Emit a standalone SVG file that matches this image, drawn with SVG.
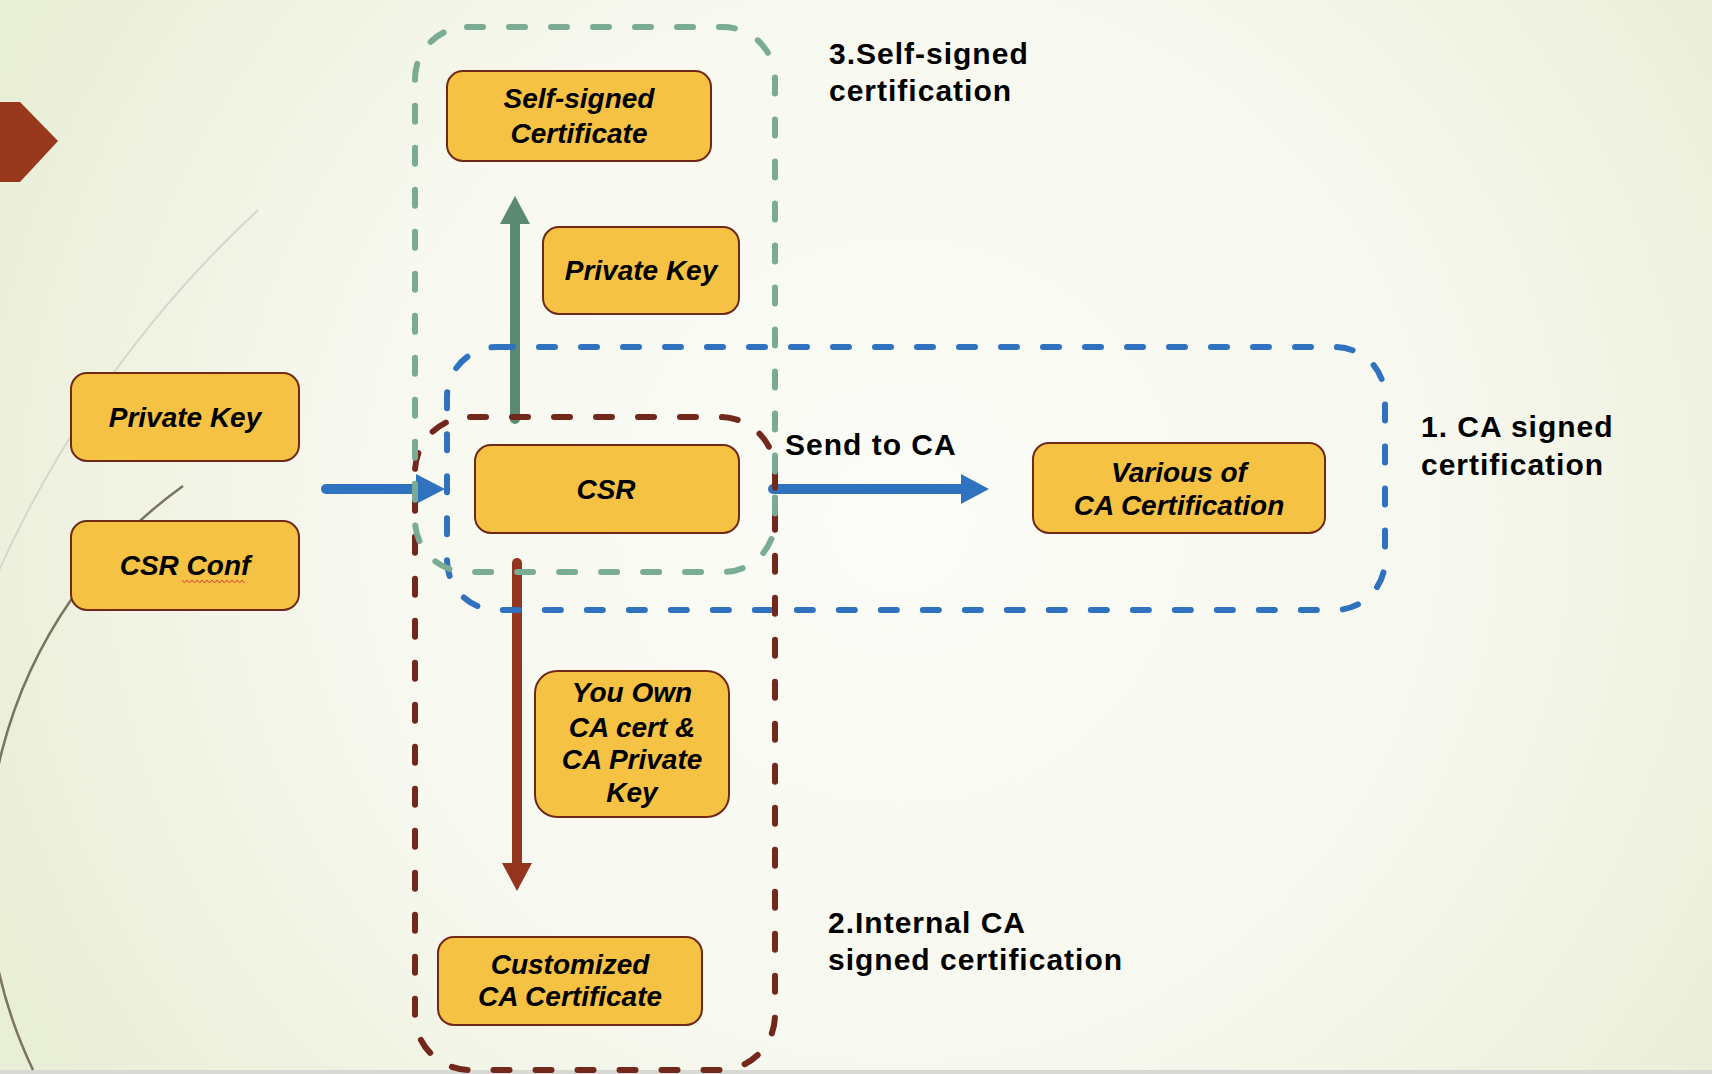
<svg xmlns="http://www.w3.org/2000/svg" width="1712" height="1074" viewBox="0 0 1712 1074">
<defs>
<radialGradient id="bg" cx="900" cy="520" r="1000" gradientUnits="userSpaceOnUse">
<stop offset="0" stop-color="#fcfcf8"/>
<stop offset="0.55" stop-color="#f7f8ef"/>
<stop offset="1" stop-color="#e9eed6"/>
</radialGradient>
<style>
.node rect{fill:#f5c244;stroke:#6e2a16;stroke-width:2}
.node text{font-family:"Liberation Sans",Arial,sans-serif;font-weight:bold;font-style:italic;font-size:28px;fill:#000;text-anchor:middle}
.label{font-family:"Liberation Sans",Arial,sans-serif;font-weight:bold;font-size:30px;fill:#000;letter-spacing:1px}
.cont{fill:none;stroke-width:6;stroke-dasharray:16 26;stroke-linecap:round}
.conn line{stroke-width:10;stroke-linecap:round}
</style>
</defs>
<rect x="0" y="0" width="1712" height="1074" fill="url(#bg)"/>
<rect x="0" y="1070" width="1712" height="4" fill="#d8d8d4"/>
<g id="decor">
<polygon points="0,102 20,102 58,141 20,182 0,182" fill="#98391e"/>
<path d="M258,210 A1121,1121 0 0 0 -22,620" fill="none" stroke="#d6d7cc" stroke-width="2"/>
<path d="M183,486 A470,470 0 0 0 33,1070" fill="none" stroke="#7a7460" stroke-width="2.5"/>
</g>
<g id="connectors" class="conn">
<line x1="326" y1="489" x2="418" y2="489" stroke="#2f72c0"/>
<polygon points="416,474 445,489 416,504" fill="#2f72c0"/>
<line x1="773" y1="489" x2="963" y2="489" stroke="#2f72c0"/>
<polygon points="961,474 989,489 961,504" fill="#2f72c0"/>
<line x1="515" y1="419" x2="515" y2="222" stroke="#5b8a73"/>
<polygon points="500,224 515,196 530,224" fill="#5b8a73"/>
<line x1="517" y1="563" x2="517" y2="865" stroke="#943520"/>
<polygon points="502,863 517,891 532,863" fill="#943520"/>
</g>
<g id="groups">
<rect id="grp-ca" class="cont" x="447" y="347" width="938" height="263" rx="50" stroke="#2f72c0"/>
<rect id="grp-internal" class="cont" x="415" y="417" width="360" height="653" rx="55" stroke="#72281a"/>
<rect id="grp-self" class="cont" x="415" y="27" width="360" height="545" rx="52" stroke="#7aab94"/>
</g>
<g id="n-privkey-left" class="node">
<rect x="71" y="373" width="228" height="88" rx="16"/>
<text x="185" y="427">Private Key</text>
</g>
<g id="n-csrconf" class="node">
<rect x="71" y="521" width="228" height="89" rx="16"/>
<text x="185" y="575">CSR Conf</text>
<path d="M182,580 l2.5,3 l2.5,-3 l2.5,3 l2.5,-3 l2.5,3 l2.5,-3 l2.5,3 l2.5,-3 l2.5,3 l2.5,-3 l2.5,3 l2.5,-3 l2.5,3 l2.5,-3 l2.5,3 l2.5,-3 l2.5,3 l2.5,-3 l2.5,3 l2.5,-3 l2.5,3 l2.5,-3 l2.5,3 l2.5,-3 l2.5,3" fill="none" stroke="#e0403a" stroke-width="1"/>
</g>
<g id="n-csr" class="node">
<rect x="475" y="445" width="264" height="88" rx="16"/>
<text x="606" y="499">CSR</text>
</g>
<g id="n-selfcert" class="node">
<rect x="447" y="71" width="264" height="90" rx="16"/>
<text x="579" y="108">Self-signed</text>
<text x="579" y="143">Certificate</text>
</g>
<g id="n-privkey-top" class="node">
<rect x="543" y="227" width="196" height="87" rx="16"/>
<text x="641" y="280">Private Key</text>
</g>
<g id="n-various" class="node">
<rect x="1033" y="443" width="292" height="90" rx="16"/>
<text x="1179" y="482">Various of</text>
<text x="1179" y="515">CA Certification</text>
</g>
<g id="n-ownca" class="node">
<rect x="535" y="671" width="194" height="146" rx="22"/>
<text x="632" y="702">You Own</text>
<text x="632" y="737">CA cert &amp;</text>
<text x="632" y="769">CA Private</text>
<text x="632" y="802">Key</text>
</g>
<g id="n-customized" class="node">
<rect x="438" y="937" width="264" height="88" rx="16"/>
<text x="570" y="974">Customized</text>
<text x="570" y="1006">CA Certificate</text>
</g>
<g id="labels">
<text class="label" x="829" y="64">3.Self-signed</text>
<text class="label" x="829" y="101">certification</text>
<text class="label" x="785" y="455">Send to CA</text>
<text class="label" x="1421" y="437">1. CA signed</text>
<text class="label" x="1421" y="475">certification</text>
<text class="label" x="828" y="933">2.Internal CA</text>
<text class="label" x="828" y="970">signed certification</text>
</g>
</svg>
